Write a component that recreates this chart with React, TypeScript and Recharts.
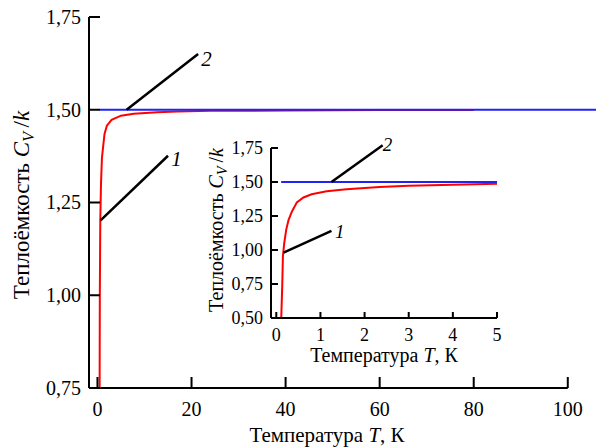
import React from 'react';
import { LineChart, Line, XAxis, YAxis, ReferenceLine, ReferenceDot } from 'recharts';

const FONT = '"Liberation Serif", "Times New Roman", Times, serif';

// Main chart axes
const mainXTicks = [0, 20, 40, 60, 80, 100];
const mainYTicks = [0.75, 1.0, 1.25, 1.5, 1.75];

// Main chart series (curve 1: red, curve 2: blue)
const mainRedT = [0.45, 0.5, 0.6, 0.75, 0.95, 1.2, 1.5, 2.0, 3.0, 5.0, 7.7, 12.7, 17, 24, 40, 60, 80];
const mainRedCv = [0.7, 1.0, 1.2, 1.3, 1.37, 1.4, 1.435, 1.457, 1.473, 1.484, 1.489, 1.493, 1.495, 1.497, 1.498, 1.499, 1.4995];
const mainBlueT = [0.5, 106];
const mainBlueCv = [1.5, 1.5];

// Inset chart axes
const insetXTicks = [0, 1, 2, 3, 4, 5];
const insetYTicks = [0.5, 0.75, 1.0, 1.25, 1.5, 1.75];

// Inset series
const insetRedT = [0.112, 0.135, 0.15, 0.18, 0.225, 0.277, 0.35, 0.465, 0.615, 0.8, 1.14, 1.59, 2.34, 3.0, 4.0, 5.0];
const insetRedCv = [0.5, 0.74, 0.955, 1.05, 1.15, 1.22, 1.28, 1.35, 1.386, 1.41, 1.432, 1.446, 1.463, 1.472, 1.48, 1.487];
const insetBlueT = [0.11, 5];
const insetBlueCv = [1.5, 1.5];

// Leader lines and labels (data coordinates)
const mainLeaders = [
  { label: '2', from: [6.2, 1.5], to: [21.4, 1.65], at: [23.2, 1.636] },
  { label: '1', from: [0.66, 1.202], to: [15.0, 1.376], at: [16.8, 1.367] },
];
const insetLeaders = [
  { label: '2', from: [1.25, 1.5], to: [2.41, 1.77], at: [2.52, 1.777] },
  { label: '1', from: [0.164, 0.981], to: [1.25, 1.14], at: [1.44, 1.133] },
];

const zip = (xs: number[], ys: number[]) => xs.map((T, i) => ({ T, v: ys[i] }));
const mainRed = zip(mainRedT, mainRedCv);
const mainBlue = zip(mainBlueT, mainBlueCv);
const insetRed = zip(insetRedT, insetRedCv);
const insetBlue = zip(insetBlueT, insetBlueCv);

const fmt = (v: number) => v.toFixed(2).replace('.', ',');

const RED = '#ff0000';
const BLUE = '#2222f4';

const YTitle = (cx: number, cy: number, size: number, sub: number) => () => (
  <text
    x={cx}
    y={cy}
    transform={`rotate(-90 ${cx} ${cy})`}
    textAnchor="middle"
    fontFamily={FONT}
    fontSize={size}
    fill="#000"
  >
    {'Теплоёмкость '}
    <tspan fontStyle="italic">C</tspan>
    <tspan fontStyle="italic" fontSize={sub} dy={size * 0.2}>V</tspan>
    <tspan dy={-size * 0.2}>{'\u2009/'}</tspan>
    <tspan fontStyle="italic">k</tspan>
  </text>
);

const XTitle = (cx: number, cy: number, size: number) => () => (
  <text x={cx} y={cy} textAnchor="middle" fontFamily={FONT} fontSize={size} fill="#000">
    {'Температура '}
    <tspan fontStyle="italic">T</tspan>
    {', К'}
  </text>
);

const numLabel = (text: string, size: number) => (p: any) => (
  <text
    x={p.cx}
    y={p.cy}
    textAnchor="middle"
    dominantBaseline="central"
    fontFamily={FONT}
    fontStyle="italic"
    fontSize={size}
    fill="#000"
  >
    {text}
  </text>
);

// Custom ticks: inward tick marks + serif labels. axisPos = pixel position of the axis line.
const makeYTick = (axisPos: number, len: number, gap: number, size: number) => (p: any) => {
  const v = p.payload.value;
  const y = p.payload.coordinate ?? p.y;
  return (
    <g>
      <line x1={axisPos} x2={axisPos + len} y1={y} y2={y} stroke="#000" strokeWidth={2} />
      <text x={axisPos - gap} y={y} dy="0.34em" textAnchor="end" fontFamily={FONT} fontSize={size} fill="#000">
        {fmt(v)}
      </text>
    </g>
  );
};
const makeXTick = (axisPos: number, len: number, gap: number, size: number) => (p: any) => {
  const v = p.payload.value;
  const x = p.payload.coordinate ?? p.x;
  return (
    <g>
      <line x1={x} x2={x} y1={axisPos} y2={axisPos - len} stroke="#000" strokeWidth={2} />
      <text x={x} y={axisPos + gap} textAnchor="middle" fontFamily={FONT} fontSize={size} fill="#000">
        {String(v)}
      </text>
    </g>
  );
};

export default function App() {
  return (
    <div style={{ position: 'relative', width: 610, height: 448, background: '#fff' }}>
      <style>{'body{margin:0;background:#fff}'}</style>
      <div style={{ position: 'absolute', left: 0, top: 0 }}>
        <LineChart width={610} height={448} margin={{ top: 17, right: 14, bottom: 0, left: 0 }}>
          <XAxis
            type="number"
            dataKey="T"
            domain={[-1.8, 106]}
            allowDataOverflow
            ticks={mainXTicks}
            axisLine={false}
            tickLine={false}
            tick={makeXTick(388, 11, 28, 20)}
            height={60}
            label={{ content: XTitle(327, 442, 21) }}
          />
          <YAxis
            type="number"
            domain={[0.75, 1.75]}
            allowDataOverflow
            ticks={mainYTicks}
            width={89}
            axisLine={{ stroke: '#000', strokeWidth: 2 }}
            tickLine={false}
            tick={makeYTick(89, 11, 8, 20)}
            label={{ content: YTitle(29, 205, 23, 16) }}
          />
          <ReferenceLine
            segment={[{ x: -1.8, y: 0.75 }, { x: 100, y: 0.75 }]}
            stroke="#000"
            strokeWidth={2}
            ifOverflow="visible"
          />
          <Line data={mainRed} dataKey="v" stroke={RED} strokeWidth={2} dot={false} isAnimationActive={false} type="linear" />
          <Line data={mainBlue} dataKey="v" stroke={BLUE} strokeWidth={2} dot={false} isAnimationActive={false} type="linear" />
          {mainLeaders.map((l) => (
            <ReferenceLine
              key={'ml' + l.label}
              segment={[{ x: l.from[0], y: l.from[1] }, { x: l.to[0], y: l.to[1] }]}
              stroke="#000"
              strokeWidth={2.5}
              ifOverflow="visible"
            />
          ))}
          {mainLeaders.map((l) => (
            <ReferenceDot
              key={'md' + l.label}
              x={l.at[0]}
              y={l.at[1]}
              r={0}
              ifOverflow="visible"
              shape={numLabel(l.label, 21)}
            />
          ))}
        </LineChart>
      </div>
      <div style={{ position: 'absolute', left: 200, top: 130 }}>
        <LineChart width={310} height={240} margin={{ top: 18, right: 13, bottom: 0, left: 0 }}>
          <XAxis
            type="number"
            dataKey="T"
            domain={[-0.12, 5]}
            allowDataOverflow
            ticks={insetXTicks}
            axisLine={{ stroke: '#000', strokeWidth: 2 }}
            tickLine={false}
            tick={makeXTick(188, 6, 23, 18)}
            height={52}
            label={{ content: XTitle(184, 232, 20) }}
          />
          <YAxis
            type="number"
            domain={[0.5, 1.75]}
            allowDataOverflow
            ticks={insetYTicks}
            width={71}
            axisLine={{ stroke: '#000', strokeWidth: 2 }}
            tickLine={false}
            tick={makeYTick(71, 7, 8, 18)}
            label={{ content: YTitle(23, 100, 20, 14) }}
          />
          <Line data={insetRed} dataKey="v" stroke={RED} strokeWidth={2} dot={false} isAnimationActive={false} type="linear" />
          <Line data={insetBlue} dataKey="v" stroke={BLUE} strokeWidth={2} dot={false} isAnimationActive={false} type="linear" />
          {insetLeaders.map((l) => (
            <ReferenceLine
              key={'il' + l.label}
              segment={[{ x: l.from[0], y: l.from[1] }, { x: l.to[0], y: l.to[1] }]}
              stroke="#000"
              strokeWidth={2.5}
              ifOverflow="visible"
            />
          ))}
          {insetLeaders.map((l) => (
            <ReferenceDot
              key={'id' + l.label}
              x={l.at[0]}
              y={l.at[1]}
              r={0}
              ifOverflow="visible"
              shape={numLabel(l.label, 19)}
            />
          ))}
        </LineChart>
      </div>
    </div>
  );
}
